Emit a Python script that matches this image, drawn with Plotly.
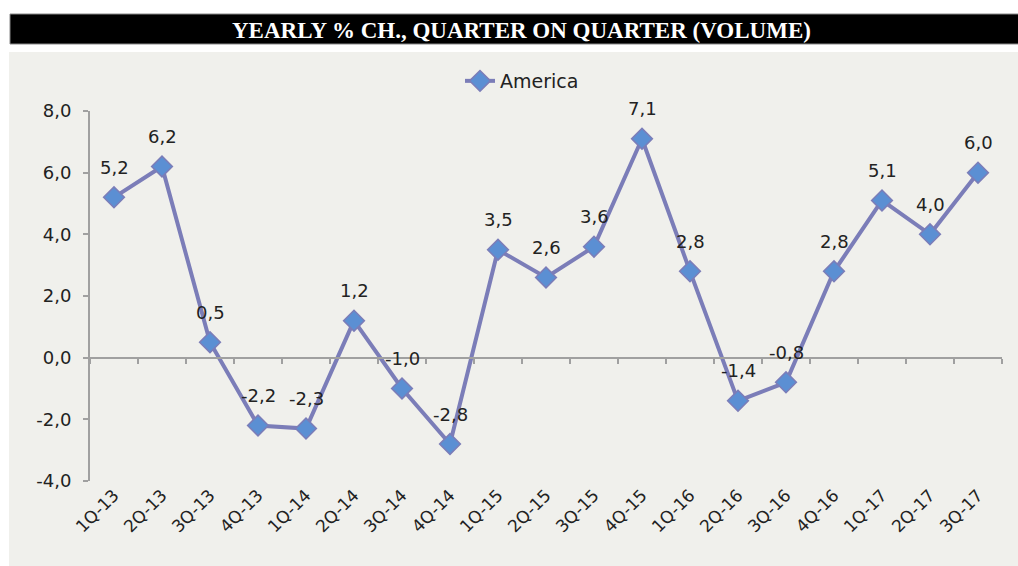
import plotly.graph_objects as go

quarters = ["1Q-13", "2Q-13", "3Q-13", "4Q-13",
            "1Q-14", "2Q-14", "3Q-14", "4Q-14",
            "1Q-15", "2Q-15", "3Q-15", "4Q-15",
            "1Q-16", "2Q-16", "3Q-16", "4Q-16",
            "1Q-17", "2Q-17", "3Q-17"]
america = [5.2, 6.2, 0.5, -2.2, -2.3, 1.2, -1.0, -2.8, 3.5, 2.6, 3.6, 7.1,
           2.8, -1.4, -0.8, 2.8, 5.1, 4.0, 6.0]
y_ticks = [-4, -2, 0, 2, 4, 6, 8]

title = "YEARLY % CH., QUARTER ON QUARTER (VOLUME)"

W, H = 1018, 566
L, R, T, B = 90, 16, 111, 85
pw, ph = W - L - R, H - T - B


# pixel -> paper coords
def px(x):
    return (x - L) / pw


def py(y):
    return (H - B - y) / ph


def comma(v):
    return f"{v:.1f}".replace(".", ",")


font = "DejaVu Sans"
line_col = "#7b7db8"
marker_col = "#5b8fd3"

fig = go.Figure()
fig.add_trace(go.Scatter(
    x=quarters, y=america, name="America", mode="lines+markers",
    line=dict(color=line_col, width=4),
    marker=dict(symbol="diamond", size=16, color=marker_col,
                line=dict(color=line_col, width=1.5)),
))
# invisible copy so the zero-crossing axis gets drawn
fig.add_trace(go.Scatter(
    x=quarters, y=america, xaxis="x2", mode="markers",
    marker=dict(opacity=0), showlegend=False, hoverinfo="skip",
))

for q, v in zip(quarters, america):
    fig.add_annotation(x=q, y=v, text=comma(v),
                       showarrow=False, yshift=30,
                       font=dict(family=font, size=18, color="#222"))

# background panel and title bar
fig.add_shape(type="rect", xref="paper", yref="paper", layer="below",
              x0=px(9), x1=px(W + 5), y0=py(H + 5), y1=py(52),
              fillcolor="#f0f0ec", line_width=0)
fig.add_shape(type="rect", xref="paper", yref="paper",
              x0=px(10), x1=px(W + 5), y0=py(44), y1=py(14),
              fillcolor="black", line=dict(color="#888", width=1))
fig.add_annotation(xref="paper", yref="paper", x=px(521), y=py(30),
                   xanchor="center", yanchor="middle",
                   text=f"<b>{title}</b>", showarrow=False,
                   font=dict(family="Liberation Serif", size=23, color="white"))

fig.update_layout(
    width=W, height=H,
    margin=dict(l=L, r=R, t=T, b=B),
    paper_bgcolor="white",
    plot_bgcolor="rgba(0,0,0,0)",
    font=dict(family=font, size=18, color="#222"),
    showlegend=True,
    legend=dict(orientation="h", x=px(522), y=py(81), xanchor="center",
                yanchor="middle", bgcolor="rgba(0,0,0,0)",
                font=dict(size=19)),
    xaxis=dict(type="category", range=[-0.5, len(quarters) - 0.5],
               showline=False, showgrid=False, zeroline=False,
               tickangle=-45, ticks="", tickfont=dict(size=17)),
    xaxis2=dict(type="category", overlaying="x", matches="x", anchor="free",
                position=(0 - y_ticks[0]) / (y_ticks[-1] - y_ticks[0]),
                showline=True, linecolor="#a0a0a0", linewidth=2,
                ticks="outside", tickson="boundaries", ticklen=5,
                tickcolor="#a0a0a0", tickwidth=2,
                showticklabels=False, showgrid=False, zeroline=False),
    yaxis=dict(range=[y_ticks[0], y_ticks[-1]], tickvals=y_ticks,
               ticktext=[comma(v) for v in y_ticks],
               showgrid=False, zeroline=False,
               showline=True, linecolor="#a0a0a0", linewidth=2,
               ticks="outside", ticklen=5, tickcolor="#a0a0a0", tickwidth=2,
               ticklabelstandoff=8, tickfont=dict(size=18)),
)

fig.write_html("out.html", config={"displayModeBar": False},
               post_script="document.body.style.margin='0';")
